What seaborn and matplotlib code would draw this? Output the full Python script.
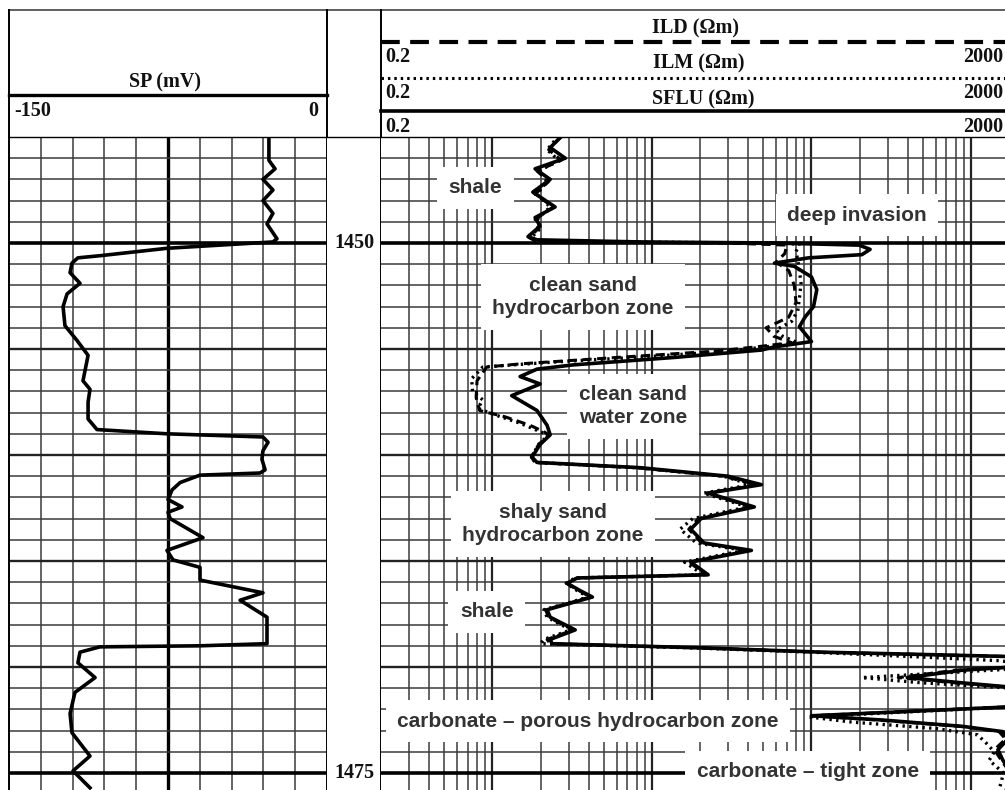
import matplotlib
matplotlib.use('Agg')
import matplotlib.pyplot as plt
import seaborn as sns
import numpy as np

# ---- SP track (mV) ----
sp_depth = [1445.05, 1446.1, 1446.5, 1447.0, 1447.5, 1448.0, 1448.6, 1449.1, 1449.8, 1449.95,
            1450.25, 1450.6, 1450.7, 1450.95, 1451.4, 1451.9, 1452.4, 1453.0, 1453.9, 1454.6,
            1455.3, 1456.0, 1456.5, 1456.9, 1457.5, 1458.3, 1458.8, 1459.0, 1459.15, 1459.4,
            1459.8, 1460.2, 1460.7, 1460.85, 1460.95, 1461.3, 1461.65, 1462.1, 1462.45, 1462.7,
            1463.0, 1463.9, 1464.5, 1464.95, 1465.3, 1465.9, 1466.5, 1466.85, 1467.65, 1468.9,
            1469.0, 1469.05, 1469.3, 1469.8, 1470.5, 1471.2, 1472.2, 1473.1, 1474.2, 1474.9,
            1475.7]
sp_mv = [-27.4, -27.4, -24.5, -30.2, -25.5, -30.2, -25.5, -28.3, -23.6, -25.5,
         -75.5, -107.1, -117.5, -120.3, -121.2, -116.5, -122.6, -124.5, -123.6, -117.9,
         -112.7, -114.1, -115.1, -111.8, -112.7, -112.7, -108.5, -75.5, -30.2, -27.8,
         -30.2, -30.7, -29.2, -31.6, -59.9, -69.3, -73.1, -75.0, -68.4, -75.0,
         -74.0, -58.5, -75.5, -72.6, -59.9, -59.9, -30.2, -41.0, -28.3, -28.3,
         -59.9, -107.1, -116.5, -117.5, -109.4, -118.9, -121.2, -120.3, -111.8, -119.8,
         -111.8]

# ---- resistivity track (ohm.m), values > 2000 run off the track ----
sflu_depth = [1444.9, 1445.5, 1446.0, 1446.5, 1447.0, 1447.6, 1448.3, 1448.8, 1449.2, 1449.7,
              1449.85, 1449.95, 1450.0, 1450.1, 1450.3, 1450.55, 1450.7, 1450.95, 1451.1, 1451.6,
              1452.2, 1453.0, 1453.5, 1453.95, 1454.65, 1454.9, 1455.05, 1455.4, 1455.75, 1455.95,
              1456.3, 1456.65, 1457.2, 1457.9, 1458.6, 1459.05, 1459.5, 1460.1, 1460.35, 1460.6,
              1461.0, 1461.4, 1461.8, 1462.45, 1463.0, 1463.5, 1464.15, 1464.5, 1465.05, 1465.65,
              1465.8, 1466.05, 1466.4, 1466.7, 1467.3, 1467.65, 1468.25, 1468.7, 1468.9, 1469.1,
              1469.3, 1469.4, 1469.55, 1469.9, 1470.15, 1470.5, 1470.75, 1471.1, 1471.8, 1472.1,
              1472.3, 1472.5, 1472.8, 1473.05, 1473.4, 1473.9, 1474.4, 1475.1, 1475.8]
sflu_ohmm = [2.77, 2.30, 2.86, 1.85, 2.30, 1.79, 2.47, 1.85, 1.99, 1.67,
             1.90, 8.5, 58.6, 199, 233, 207, 96, 58.6, 78, 100,
             108, 103, 91, 84, 100, 58.6, 48.5, 13.7, 3.2, 1.90,
             1.49, 1.99, 1.32, 1.90, 2.2, 2.30, 1.99, 1.77, 1.90, 8.5,
             30, 48.5, 22.5, 43.8, 20.3, 17.5, 21.2, 42, 17.5, 22.5,
             3.4, 2.94, 3.55, 4.23, 2.2, 2.30, 3.3, 2.30, 2.36, 21.2,
             116, 448, 3000, 3000, 887, 399, 887, 3000, 3000, 399,
             100, 277, 887, 1585, 1706, 1475, 1585, 1833, 1706]

ilm_depth = [1444.95, 1445.6, 1446.1, 1446.6, 1447.1, 1447.7, 1448.3, 1448.9, 1449.3, 1449.75,
             1449.9, 1449.95, 1450.0, 1450.05, 1450.4, 1450.8, 1451.3, 1451.9, 1452.6, 1453.2,
             1453.7, 1454.1, 1454.4, 1454.7, 1454.9, 1455.1, 1455.35, 1455.6, 1455.85, 1456.4,
             1457.0, 1457.4, 1457.8, 1458.1, 1458.5, 1458.9, 1459.05, 1459.5, 1460.1, 1460.35,
             1460.6, 1461.0, 1461.4, 1461.8, 1462.45, 1463.0, 1463.5, 1464.15, 1464.5, 1465.05,
             1465.65, 1465.8, 1466.05, 1466.4, 1466.7, 1467.3, 1467.65, 1468.25, 1468.7, 1468.9,
             1469.1, 1469.3, 1469.5, 1469.7, 1470.0, 1470.3, 1470.5, 1470.75, 1471.1, 1471.8,
             1472.1, 1472.35, 1472.6, 1472.9, 1473.2, 1473.6, 1474.0, 1474.4, 1475.0, 1475.8]
ilm_ohmm = [2.6, 2.2, 2.6, 1.95, 2.2, 1.9, 2.3, 1.9, 2.0, 1.75,
            1.9, 6, 45, 84, 80, 82, 84, 86, 84, 82,
            75, 60, 66, 82, 52, 30, 10, 2.6, 0.87, 0.74,
            0.75, 0.87, 0.81, 1.03, 1.49, 1.99, 2.25, 1.95, 1.75, 1.85,
            8, 28, 42, 21, 40, 18, 15, 19, 38, 16,
            21, 3.3, 2.9, 3.4, 4.0, 2.1, 2.2, 3.1, 2.1, 2.0,
            18, 100, 400, 1500, 3000, 600, 207, 500, 3000, 3000,
            450, 95, 180, 600, 1100, 1250, 1400, 1300, 1600, 1500]

ild_depth = [1444.95, 1445.6, 1446.1, 1446.6, 1447.1, 1447.7, 1448.3, 1448.9, 1449.3, 1449.75,
             1449.9, 1449.95, 1450.0, 1450.1, 1450.5, 1450.9, 1451.3, 1452.0, 1452.8, 1453.5,
             1454.0, 1454.4, 1454.7, 1454.9, 1455.1, 1455.4, 1455.7, 1455.85, 1456.5, 1457.3,
             1457.9, 1458.2, 1458.6, 1458.9, 1459.05, 1459.5, 1460.1, 1460.35, 1460.6, 1461.0,
             1461.4, 1461.8, 1462.45, 1463.0, 1463.5, 1464.15, 1464.5, 1465.05, 1465.65, 1465.8,
             1466.05, 1466.4, 1466.7, 1467.3, 1467.65, 1468.25, 1468.7, 1468.9, 1469.1, 1469.3,
             1469.4, 1469.55, 1469.9, 1470.15, 1470.5, 1470.75, 1471.1, 1471.8, 1472.1, 1472.3,
             1472.5, 1472.8, 1473.05, 1473.4, 1473.9, 1474.4, 1475.1, 1475.8]
ild_ohmm = [2.7, 2.25, 2.7, 1.9, 2.25, 1.85, 2.4, 1.85, 1.95, 1.7,
            1.85, 4, 30, 70, 68, 60, 72, 78, 80, 72,
            52, 58, 75, 45, 25, 6, 1.5, 0.92, 0.80, 0.79,
            0.83, 1.2, 1.72, 2.1, 2.25, 1.95, 1.75, 1.85, 8, 28,
            45, 22, 42, 19.5, 17, 20.5, 40, 17, 22, 3.4,
            2.9, 3.5, 4.1, 2.15, 2.25, 3.2, 2.2, 2.3, 20, 110,
            430, 3000, 3000, 800, 350, 800, 3000, 3000, 380, 100,
            260, 850, 1500, 1650, 1400, 1550, 1800, 1650]

# ---- zone annotations ----
zone_text = ['shale', 'deep invasion', 'clean sand\nhydrocarbon zone', 'clean sand\nwater zone',
             'shaly sand\nhydrocarbon zone', 'shale', 'carbonate \u2013 porous hydrocarbon zone',
             'carbonate \u2013 tight zone']
zone_res = [0.78, 193, 3.7, 7.6, 2.4, 0.92, 3.97, 95]
zone_depth = [1447.4, 1448.7, 1452.55, 1457.7, 1463.25, 1467.4, 1472.55, 1474.95]

depth_labels = [1450, 1475]

W, H = 1005, 790
TOP_PX, BOT_PX = 137, 800
DEPTH_TOP = 1445
PX_PER_M = 21.2
DEPTH_BOT = DEPTH_TOP + (BOT_PX - TOP_PX) / PX_PER_M

INK = 'black'
THIN = '#3a3a3a'
SERIF = dict(family='Liberation Serif', weight='bold', size=14.5, color='#111111')
SANS = dict(family='Liberation Sans', weight='bold', size=15, color='#333333')


def rect(x0, y0, x1, y1):
    return [x0 / W, 1 - y1 / H, (x1 - x0) / W, (y1 - y0) / H]


def depth_grid(ax):
    for d in range(DEPTH_TOP + 1, int(DEPTH_BOT) + 1):
        if d % 25 == 0:
            ax.axhline(d, color=INK, lw=2.6, zorder=1)
        elif d % 5 == 0:
            ax.axhline(d, color='#222222', lw=1.7, zorder=1)
        else:
            ax.axhline(d, color=THIN, lw=1.1, zorder=1)


def curve(ax, depth, values, **kws):
    sns.lineplot(x=values, y=depth, orient='y', sort=False, estimator=None,
                 ax=ax, legend=False, color=INK, zorder=5,
                 solid_joinstyle='round', dash_joinstyle='round', **kws)


def clean(ax):
    ax.set_xlabel('')
    ax.set_ylabel('')
    ax.tick_params(which='both', bottom=False, left=False, top=False, right=False,
                   labelbottom=False, labelleft=False)


fig = plt.figure(figsize=(W / 100, H / 100), dpi=100)
hdr = fig.add_axes([0, 0, 1, 1], zorder=0)
hdr.set_xlim(0, W)
hdr.set_ylim(H, 0)
hdr.axis('off')

ax_sp = fig.add_axes(rect(9, TOP_PX, 327, BOT_PX), zorder=2)
ax_dep = fig.add_axes(rect(327, TOP_PX, 381, BOT_PX), zorder=2)
ax_res = fig.add_axes(rect(381, TOP_PX, 1019, BOT_PX), zorder=2)

# SP track
ax_sp.set_xlim(-150, 0)
ax_sp.set_ylim(DEPTH_BOT, DEPTH_TOP)
for v in np.arange(-135, 0, 15):
    ax_sp.axvline(v, color=INK if v == -75 else THIN, lw=2.4 if v == -75 else 1.1, zorder=1)
depth_grid(ax_sp)
curve(ax_sp, sp_depth, sp_mv, lw=2.6)
clean(ax_sp)

# depth column
ax_dep.set_xlim(0, 1)
ax_dep.set_ylim(DEPTH_BOT, DEPTH_TOP)
for d in depth_labels:
    ax_dep.text(0.5, d, str(d), ha='center', va='center', **SERIF)
clean(ax_dep)

# resistivity track
ax_res.set_xscale('log')
ax_res.set_xlim(0.2, 2000)
ax_res.set_ylim(DEPTH_BOT, DEPTH_TOP)
for k in range(-1, 4):
    for m in range(1, 10):
        v = m * 10.0 ** k
        if 0.2 < v < 2000:
            ax_res.axvline(v, color='#222222' if m == 1 else THIN,
                           lw=1.6 if m == 1 else 1.1, zorder=1)
depth_grid(ax_res)
curve(ax_res, sflu_depth, sflu_ohmm, lw=2.6)
curve(ax_res, ilm_depth, ilm_ohmm, lw=2.4, linestyle=(0, (0.7, 1.3)))
curve(ax_res, ild_depth, ild_ohmm, lw=2.2, linestyle=(0, (3, 1.8)))
ax_res.set_xlim(0.2, 2000)
ax_res.set_ylim(DEPTH_BOT, DEPTH_TOP)
for txt, r, d in zip(zone_text, zone_res, zone_depth):
    ax_res.text(r, d, txt, ha='center', va='center', linespacing=1.3, zorder=3,
                bbox=dict(boxstyle='square,pad=0.55', fc='white', ec='none'), **SANS)
clean(ax_res)

for ax in (ax_sp, ax_dep, ax_res):
    for side, sp in ax.spines.items():
        sp.set_color(INK)
        sp.set_linewidth(1.0 if side == 'top' else 1.4)
    ax.spines['bottom'].set_visible(False)
ax_dep.spines['left'].set_visible(False)
ax_res.spines['left'].set_visible(False)

# headers
hdr.plot([9, W], [10, 10], color='#444444', lw=1.2)
for x in (9, 327, 381):
    hdr.plot([x, x], [10, TOP_PX], color=INK, lw=1.4)
hdr.plot([9, 327], [95, 95], color=INK, lw=2.4)
hdr.plot([381, W], [42, 42], color=INK, lw=3.0, linestyle=(0, (4.5, 2.5)))
hdr.plot([381, W], [78, 78], color=INK, lw=2.2, linestyle=(0, (0.8, 1.3)))
hdr.plot([381, W], [111, 111], color=INK, lw=2.6)

hdr.text(165, 82, 'SP (mV)', ha='center', va='center', **SERIF)
hdr.text(14, 111, '-150', ha='left', va='center', **SERIF)
hdr.text(318, 111, '0', ha='right', va='center', **SERIF)
hdr.text(696, 28, 'ILD (\u03a9m)', ha='center', va='center', **SERIF)
hdr.text(699, 63, 'ILM (\u03a9m)', ha='center', va='center', **SERIF)
hdr.text(703, 99, 'SFLU (\u03a9m)', ha='center', va='center', **SERIF)
for y in (57, 93, 127):
    hdr.text(385, y, '0.2', ha='left', va='center', **SERIF)
    hdr.text(1003, y, '2000', ha='right', va='center', **SERIF)

fig.savefig('out.png', dpi=100)
